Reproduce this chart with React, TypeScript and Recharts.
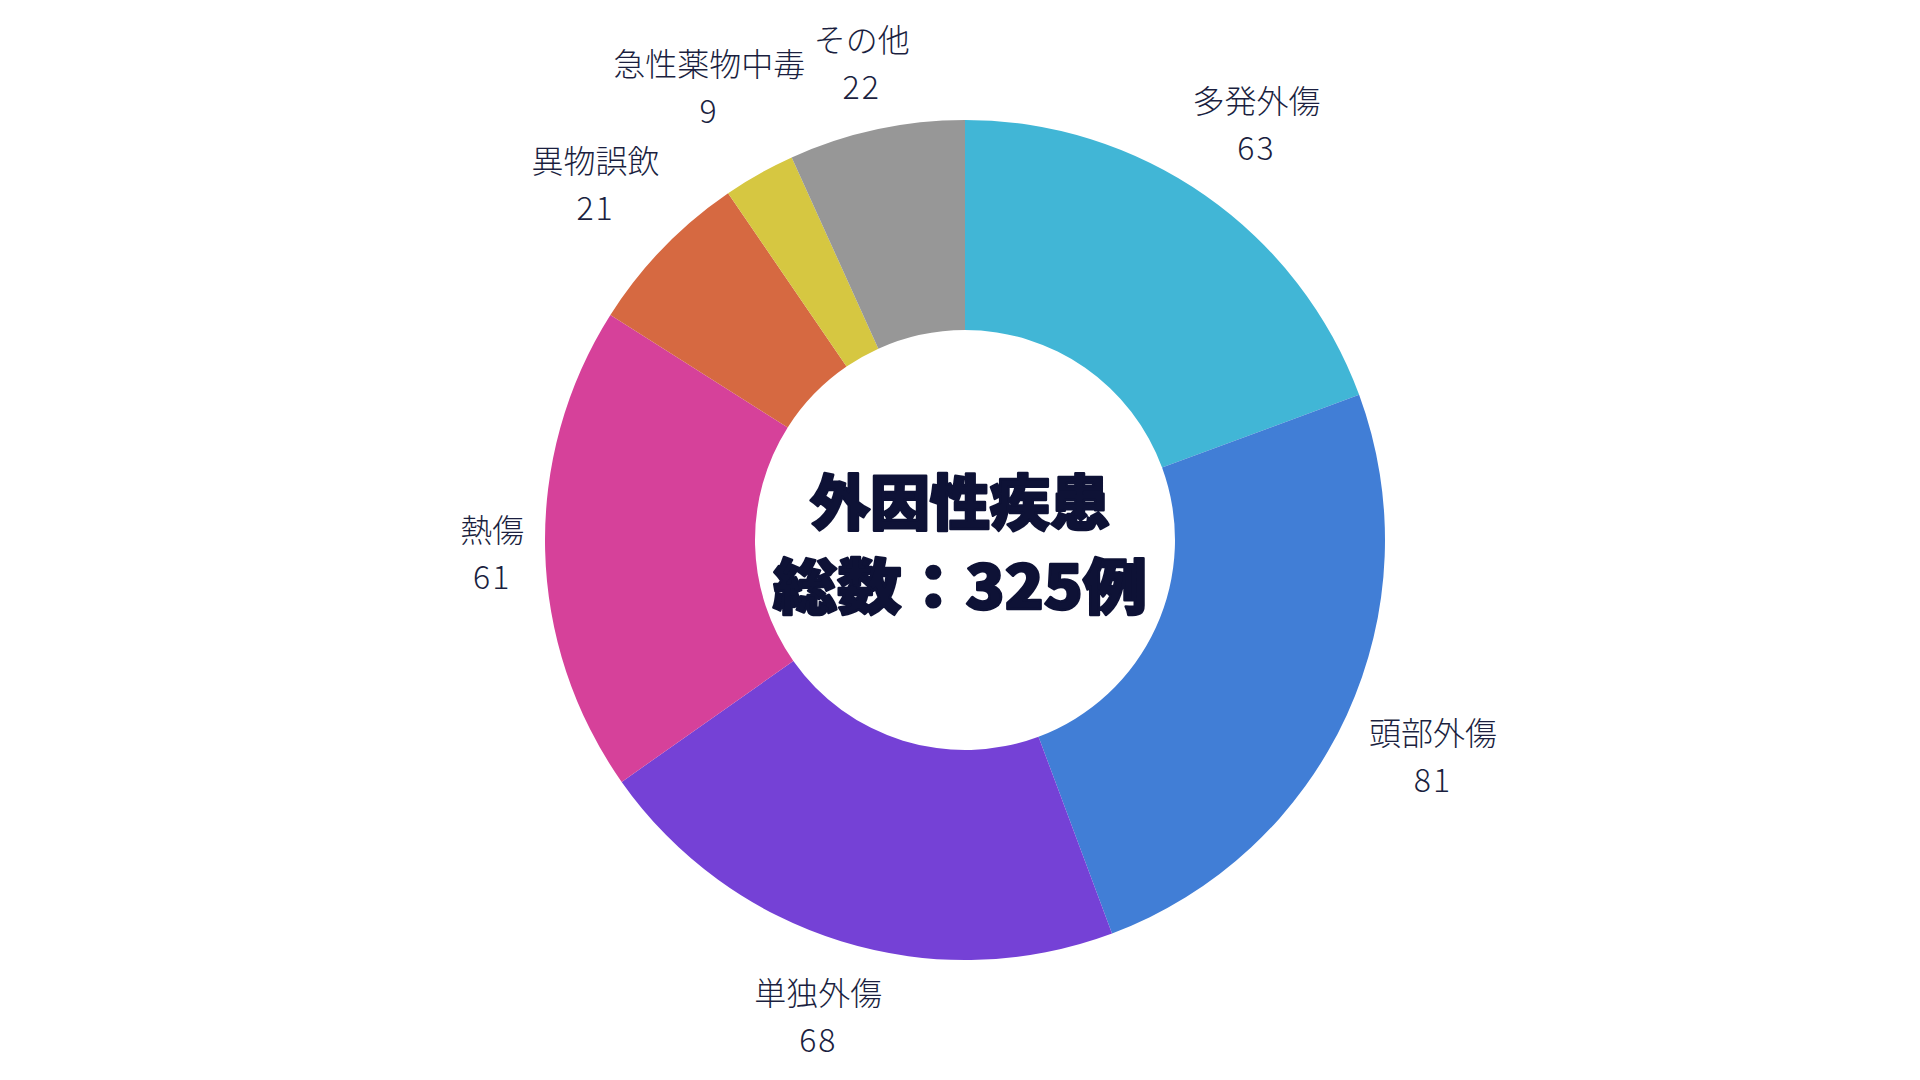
import React from "react";
import { PieChart, Pie, Cell } from "recharts";

const categories = ["多発外傷", "頭部外傷", "単独外傷", "熱傷", "異物誤飲", "急性薬物中毒", "その他"];
const values = [63, 81, 68, 61, 21, 9, 22];
const colors = ["#41B6D6", "#417ED6", "#7541D6", "#D6419A", "#D66941", "#D6C741", "#979797"];
const centerLines = ["外因性疾患", "総数：325例"];

const data = categories.map((name, i) => ({ name, value: values[i] }));

const W = 1920;
const H = 1080;
const CX = 965;
const CY = 540;
const OUTER = 420;
const INNER = 210;
const LABEL_R = 440;
const FS = 32;
const LINE_GAP = 47;
const BOX_H = 80;
const TEXT_COLOR = "#1b1f3f";
const FONT = "'Noto Sans CJK JP', 'Noto Sans', sans-serif";

const RAD = Math.PI / 180;

const renderLabel = (props: any) => {
  const { cx, cy, midAngle, name, value } = props;
  const ux = Math.cos(-midAngle * RAD);
  const uy = Math.sin(-midAngle * RAD);
  const w = String(name).length * FS;
  const support = Math.abs(ux) * (w / 2) + Math.abs(uy) * (BOX_H / 2);
  const d = LABEL_R + support;
  const x = cx + ux * d;
  const y = cy + uy * d;
  return (
    <g>
      <text x={x} y={y - LINE_GAP / 2} textAnchor="middle" dominantBaseline="central" fontSize={FS} fontWeight={300} fill={TEXT_COLOR} fontFamily={FONT}>
        {name}
      </text>
      <text x={x} y={y + LINE_GAP / 2} textAnchor="middle" dominantBaseline="central" fontSize={FS} fontWeight={300} fill={TEXT_COLOR} fontFamily={FONT} letterSpacing={2}>
        {value}
      </text>
    </g>
  );
};

export default function App() {
  return (
    <div style={{ position: "absolute", left: 0, top: 0, width: W, height: H, background: "#ffffff" }}>
      <PieChart width={W} height={H} margin={{ top: 0, right: 0, bottom: 0, left: 0 }}>
        <Pie
          data={data}
          dataKey="value"
          nameKey="name"
          cx={CX}
          cy={CY}
          innerRadius={INNER}
          outerRadius={OUTER}
          startAngle={90}
          endAngle={-270}
          stroke="none"
          label={renderLabel}
          labelLine={false}
          isAnimationActive={false}
        >
          {data.map((d, i) => (
            <Cell key={d.name} fill={colors[i]} />
          ))}
        </Pie>
        <text x={960} y={498} textAnchor="middle" dominantBaseline="central" fontSize={60} fontWeight={900} fill="#0e1236" stroke="#0e1236" strokeWidth={2.5} strokeLinejoin="round" fontFamily={FONT}>
          {centerLines[0]}
        </text>
        <text x={960} y={582} textAnchor="middle" dominantBaseline="central" fontSize={60} fontWeight={900} fill="#0e1236" stroke="#0e1236" strokeWidth={2.5} strokeLinejoin="round" fontFamily={FONT} textLength={374} lengthAdjust="spacingAndGlyphs">
          {centerLines[1]}
        </text>
      </PieChart>
    </div>
  );
}
